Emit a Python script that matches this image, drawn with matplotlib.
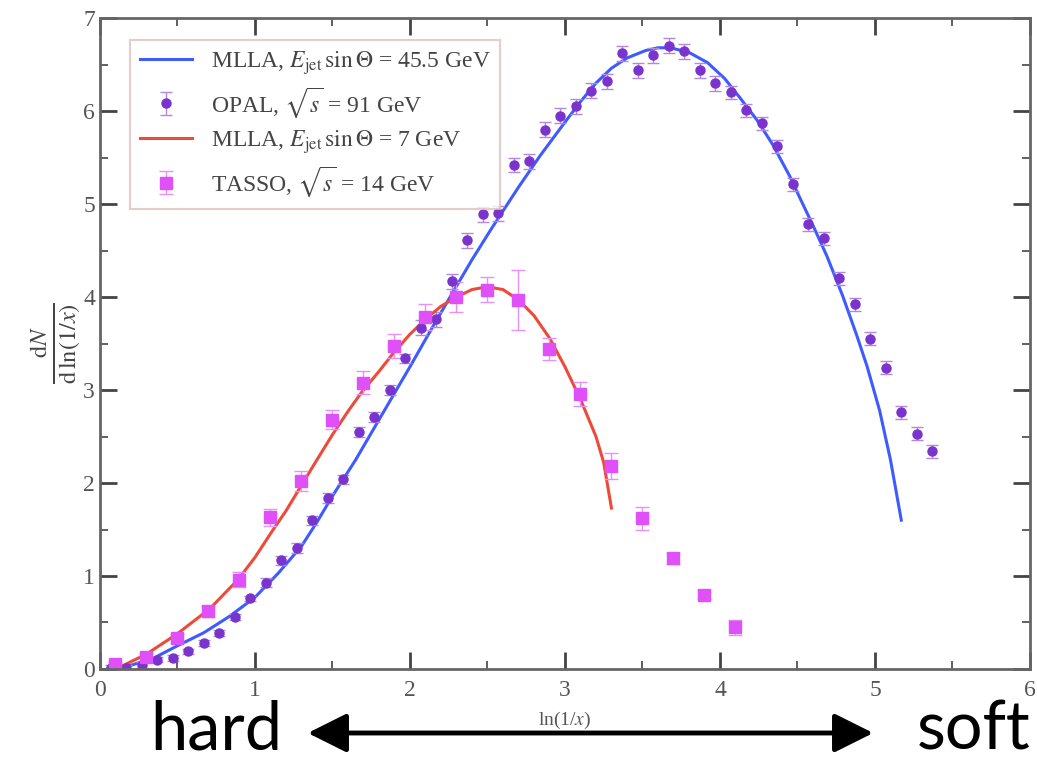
import numpy as np
import matplotlib.pyplot as plt
from matplotlib.ticker import MultipleLocator
from matplotlib.patches import FancyArrowPatch

# OPAL, sqrt(s) = 91 GeV
opal_x = [0.07, 0.17, 0.27, 0.37, 0.47, 0.57, 0.67, 0.77, 0.87, 0.97,
          1.07, 1.17, 1.27, 1.37, 1.47, 1.57, 1.67, 1.77, 1.87, 1.97,
          2.07, 2.17, 2.27, 2.37, 2.47, 2.57, 2.67, 2.77, 2.87, 2.97,
          3.07, 3.17, 3.27, 3.37, 3.47, 3.57, 3.67, 3.77, 3.87, 3.97,
          4.07, 4.17, 4.27, 4.37, 4.47, 4.57, 4.67, 4.77, 4.87, 4.97,
          5.07, 5.17, 5.27, 5.37]
opal_y = [0.01, 0.01, 0.04, 0.10, 0.12, 0.19, 0.28, 0.39, 0.56, 0.76,
          0.93, 1.17, 1.30, 1.60, 1.84, 2.04, 2.55, 2.71, 3.00, 3.34,
          3.67, 3.76, 4.17, 4.61, 4.89, 4.90, 5.42, 5.46, 5.80, 5.95,
          6.05, 6.22, 6.32, 6.62, 6.44, 6.60, 6.70, 6.64, 6.44, 6.30,
          6.20, 6.01, 5.87, 5.62, 5.21, 4.78, 4.63, 4.20, 3.92, 3.55,
          3.24, 2.76, 2.53, 2.34]
opal_err = [0.03] * 10 + [0.05] * 10 + [0.08] * 20 + [0.07] * 14

# TASSO, sqrt(s) = 14 GeV
tasso_x = [0.1, 0.3, 0.5, 0.7, 0.9, 1.1, 1.3, 1.5, 1.7, 1.9, 2.1,
           2.3, 2.5, 2.7, 2.9, 3.1, 3.3, 3.5, 3.7, 3.9, 4.1]
tasso_y = [0.05, 0.13, 0.33, 0.62, 0.96, 1.63, 2.02, 2.68, 3.08, 3.47, 3.79,
           4.00, 4.08, 3.97, 3.44, 2.96, 2.18, 1.62, 1.19, 0.80, 0.45]
tasso_err = [0.03, 0.04, 0.05, 0.06, 0.08, 0.09, 0.11, 0.1, 0.12, 0.13, 0.14,
             0.16, 0.13, 0.32, 0.12, 0.13, 0.14, 0.12, 0.06, 0.05, 0.08]

# MLLA, E_jet sin(Theta) = 45.5 GeV
mlla45_x = [0.05, 0.2, 0.35, 0.5, 0.67, 0.83, 1.0, 1.15, 1.3, 1.4, 1.5, 1.65,
            1.8, 2.0, 2.14, 2.28, 2.4, 2.52, 2.7, 2.84, 3.0, 3.1, 3.2, 3.3,
            3.4, 3.52, 3.6, 3.68, 3.8, 3.92, 4.03, 4.13, 4.24, 4.34, 4.45,
            4.52, 4.6, 4.69, 4.79, 4.88, 4.95, 5.03, 5.1, 5.17]
mlla45_y = [0.0, 0.04, 0.12, 0.25, 0.39, 0.56, 0.77, 1.03, 1.32, 1.58, 1.86,
            2.25, 2.68, 3.25, 3.66, 4.06, 4.4, 4.72, 5.18, 5.52, 5.88, 6.1,
            6.3, 6.46, 6.57, 6.65, 6.68, 6.68, 6.63, 6.52, 6.35, 6.14, 5.9,
            5.64, 5.3, 5.05, 4.77, 4.44, 4.02, 3.6, 3.25, 2.78, 2.25, 1.6]

# MLLA, E_jet sin(Theta) = 7 GeV
mlla7_x = [0.05, 0.14, 0.3, 0.5, 0.71, 0.89, 1.0, 1.11, 1.2, 1.28, 1.4, 1.5,
           1.6, 1.69, 1.8, 1.89, 2.0, 2.1, 2.2, 2.3, 2.4, 2.5, 2.6, 2.7, 2.8,
           2.9, 3.0, 3.1, 3.2, 3.25, 3.3]
mlla7_y = [0.0, 0.03, 0.16, 0.38, 0.65, 0.96, 1.2, 1.48, 1.7, 1.92, 2.25, 2.52,
           2.77, 2.98, 3.2, 3.39, 3.6, 3.76, 3.9, 4.0, 4.08, 4.11, 4.08, 3.97,
           3.8, 3.56, 3.25, 2.9, 2.5, 2.22, 1.73]

plt.rcParams['font.family'] = ['Liberation Serif', 'DejaVu Serif']
plt.rcParams['mathtext.fontset'] = 'stix'

fig = plt.figure(figsize=(10.37, 7.63), dpi=100)
ax = fig.add_axes([0.0964, 0.1232, 0.8968, 0.8532])

blue = '#3f5bff'
red = '#ee4a3a'
purple = '#7a33cc'
magenta = '#e050f8'

l1, = ax.plot(mlla45_x, mlla45_y, color=blue, lw=2.2)
e1 = ax.errorbar(opal_x, opal_y, yerr=opal_err, fmt='o', color=purple,
                 ms=6.5, capsize=4, elinewidth=1, capthick=1, ecolor='#b088e0')
l2, = ax.plot(mlla7_x, mlla7_y, color=red, lw=2.2)
e2 = ax.errorbar(tasso_x, tasso_y, yerr=tasso_err, fmt='s', color=magenta,
                 ms=8.5, capsize=5, elinewidth=1, capthick=1, ecolor='#e890fa')

ax.set_xlim(0, 6)
ax.set_ylim(0, 7)
ax.xaxis.set_major_locator(MultipleLocator(1))
ax.xaxis.set_minor_locator(MultipleLocator(0.5))
ax.yaxis.set_major_locator(MultipleLocator(1))
ax.yaxis.set_minor_locator(MultipleLocator(0.5))
ax.tick_params(which='both', direction='in', top=True, right=True,
               color='#444444', labelcolor='#555555', labelsize=17)
ax.tick_params(which='major', length=12, width=2)
ax.tick_params(which='minor', length=6, width=1.2)
ax.tick_params(axis='x', pad=8)
for sp in ax.spines.values():
    sp.set_color('#666666')
    sp.set_linewidth(2)

ax.set_xlabel(r'ln(1/$x$)', fontsize=14, color='#555555', labelpad=6)
ax.set_ylabel(r'$\frac{\mathrm{d}N}{\mathrm{d}\,\ln(1/x)}$', fontsize=25,
              color='#444444', labelpad=0)

leg = ax.legend([l1, e1, l2, e2],
                [r'MLLA, $E_{\rm jet}\,\sin\Theta$ = 45.5 GeV',
                 r'OPAL, $\sqrt{s}$ = 91 GeV',
                 r'MLLA, $E_{\rm jet}\,\sin\Theta$ = 7 GeV',
                 r'TASSO, $\sqrt{s}$ = 14 GeV'],
                loc='upper left', bbox_to_anchor=(0.02, 0.985), fontsize=17,
                frameon=True, fancybox=False, handlelength=2.2,
                labelspacing=0.35, borderpad=0.4, labelcolor='#444444')
leg.get_frame().set_edgecolor('#e0c0c0')
leg.get_frame().set_linewidth(1.5)

fig.text(150 / 1037, 1 - 750 / 763, 'hard', fontsize=48, family='Lato',
         ha='left', va='baseline')
fig.text(1030 / 1037, 1 - 750 / 763, 'soft', fontsize=48, family='Lato',
         ha='right', va='baseline')
fig.patches.append(FancyArrowPatch(
    (305 / 1037, 1 - 733 / 763), (876 / 1037, 1 - 733 / 763),
    transform=fig.transFigure, arrowstyle='<|-|>,head_length=1.2,head_width=0.6',
    mutation_scale=20, lw=3.5, color='black'))

fig.savefig('out.png', dpi=100)
